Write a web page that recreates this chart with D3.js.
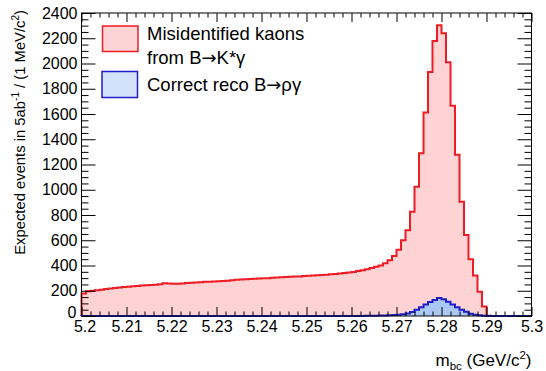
<!DOCTYPE html>
<html><head><meta charset="utf-8">
<script src="https://cdn.jsdelivr.net/npm/d3@7"></script>
<style>body{margin:0;background:#fff}svg{display:block;font-family:"Liberation Sans",Arial,Helvetica,sans-serif}</style>
</head><body><svg id="c" width="546" height="371"></svg>
<script>
// ---- data ----
const binLow = 5.2, binWidth = 0.001;
const kaonCounts = [178,196,200,204,207,214,218,222,226,229,
 232,235,238,241,244,246,248,251,260,258,
 255,255,257,262,264,266,268,271,272,274,
 276,278,280,284,288,290,292,293,295,297,
 299,300,302,305,306,308,310,312,313,316,
 318,320,322,325,327,330,333,336,340,344,
 348,356,362,370,380,390,400,418,442,476,
 525,600,680,826,1024,1290,1611,1933,2178,2303,
 2239,2009,1666,1278,905,642,449,320,193,76,
 0,0,0,0,0,0,0,0,0,0];
const rhoCounts = [0.2,0.2,0.2,0.2,0.2,0.2,0.2,0.2,0.2,0.2,
 0.2,0.2,0.2,0.2,0.2,0.2,0.2,0.2,0.2,0.2,
 0.3,0.3,0.3,0.3,0.3,0.3,0.3,0.3,0.3,0.3,
 0.3,0.3,0.3,0.3,0.3,0.3,0.3,0.3,0.3,0.3,
 0.4,0.4,0.4,0.4,0.4,0.4,0.4,0.4,0.4,0.4,
 0.5,0.5,0.5,0.5,0.5,0.5,0.5,0.5,0.6,0.6,
 0.6,0.7,0.8,1,1.5,2,3,4,5,7,
 9,14,20,32,50,70,91,111,127,142,
 132,113,92,70,50,33,18,10,5,2,
 1,0.5,0.2,0,0,0,0,0,0,0];
const xTickValues = [5.2,5.21,5.22,5.23,5.24,5.25,5.26,5.27,5.28,5.29,5.3];
const xTickLabels = ["5.2","5.21","5.22","5.23","5.24","5.25","5.26","5.27","5.28","5.29","5.3"];
const yTickValues = [0,200,400,600,800,1000,1200,1400,1600,1800,2000,2200,2400];
const yTickLabels = ["0","200","400","600","800","1000","1200","1400","1600","1800","2000","2200","2400"];
const legendLabels = [["Misidentified kaons",["from B","\u2192","K*\u03B3"]],[["Correct reco B","\u2192","\u03C1\u03B3"]]];

// ---- layout ----
const svg = d3.select("#c");
const L=81.5, R=531.5, T=13, B=316;
const x = d3.scaleLinear().domain([5.2,5.3]).range([L,R]);
const y = d3.scaleLinear().domain([0,2400]).range([B,T]);

function steps(counts){
  const pts=[[binLow,0]];
  counts.forEach((v,i)=>pts.push([binLow+i*binWidth, v]));
  pts.push([binLow+counts.length*binWidth, counts[counts.length-1]]);
  pts.push([binLow+counts.length*binWidth, 0]);
  return pts;
}
const area = d3.area().x(d=>x(d[0])).y0(y(0)).y1(d=>y(d[1])).curve(d3.curveStepAfter);
const line = d3.line().x(d=>x(d[0])).y(d=>y(d[1])).curve(d3.curveStepAfter);

const red="#ee1c24", redFill="#ffd2d3", blue="#1e1ec8", blueFill="#a9c8f4";
const kp=steps(kaonCounts), rp=steps(rhoCounts);
svg.append("path").attr("d",area(kp)).attr("fill",redFill);
svg.append("path").attr("d",line(kp)).attr("fill","none").attr("stroke",red).attr("stroke-width",2);
svg.append("path").attr("d",area(rp)).attr("fill",blueFill);
svg.append("path").attr("d",line(rp)).attr("fill","none").attr("stroke",blue).attr("stroke-width",2);

// ---- axes ----
const fmtX = d=>xTickLabels[xTickValues.indexOf(d)];
const fmtY = d=>yTickLabels[yTickValues.indexOf(d)];
const xMinor = d3.range(0,51).map(i=>5.2+i*0.002).filter(v=>Math.abs(Math.round(v*100)-v*100)>1e-6);
const yMinor = d3.range(0,49).map(i=>i*50).filter(v=>v%200!==0);

function styleAxis(g){ g.select(".domain").remove(); g.selectAll("line").attr("stroke","#000").attr("stroke-width",1); g.selectAll("text").attr("font-size",16).attr("fill","#000").attr("font-family","Liberation Sans, Arial, sans-serif"); }

const xAx = svg.append("g").attr("transform",`translate(0,${B})`).call(d3.axisBottom(x).tickValues(xTickValues).tickFormat(fmtX).tickSize(-9).tickPadding(5)).call(styleAxis);
xAx.selectAll("text").filter(d=>d===5.2).attr("dx",3);
svg.append("g").attr("transform",`translate(0,${B})`).call(d3.axisBottom(x).tickValues(xMinor).tickFormat("").tickSize(-4.5)).call(styleAxis);
svg.append("g").attr("transform",`translate(0,${T})`).call(d3.axisTop(x).tickValues(xTickValues).tickFormat("").tickSize(-9)).call(styleAxis);
svg.append("g").attr("transform",`translate(0,${T})`).call(d3.axisTop(x).tickValues(xMinor).tickFormat("").tickSize(-4.5)).call(styleAxis);
const yAx = svg.append("g").attr("transform",`translate(${L},0)`).call(d3.axisLeft(y).tickValues(yTickValues).tickFormat(fmtY).tickSize(-14).tickPadding(4)).call(styleAxis);
yAx.selectAll("text").filter(d=>d===0).attr("dy","0.1em").attr("dx",-1);
svg.append("g").attr("transform",`translate(${L},0)`).call(d3.axisLeft(y).tickValues(yMinor).tickFormat("").tickSize(-7)).call(styleAxis);
svg.append("g").attr("transform",`translate(${R},0)`).call(d3.axisRight(y).tickValues(yTickValues).tickFormat("").tickSize(-14)).call(styleAxis);
svg.append("g").attr("transform",`translate(${R},0)`).call(d3.axisRight(y).tickValues(yMinor).tickFormat("").tickSize(-7)).call(styleAxis);
svg.append("rect").attr("x",L).attr("y",T).attr("width",R-L).attr("height",B-T).attr("fill","none").attr("stroke","#000").attr("stroke-width",1);

// ---- titles ----
const xt = svg.append("text").attr("x",R).attr("y",366).attr("text-anchor","end").attr("font-size",17).attr("fill","#000");
xt.append("tspan").text("m");
xt.append("tspan").attr("font-size",11.5).attr("dy",4).text("bc");
xt.append("tspan").attr("dy",-4).text(" (GeV/c");
xt.append("tspan").attr("font-size",11.5).attr("dy",-7).text("2");
xt.append("tspan").attr("dy",7).text(")");

const yt = svg.append("text").attr("transform","translate(25,10) rotate(-90)").attr("text-anchor","end").attr("font-size",14.8).attr("fill","#000");
yt.append("tspan").text("Expected events in 5ab");
yt.append("tspan").attr("font-size",10).attr("dy",-6).text("-1");
yt.append("tspan").attr("dy",6).text(" / (1 MeV/c");
yt.append("tspan").attr("font-size",10).attr("dy",-6).text("2");
yt.append("tspan").attr("dy",6).text(")");

// ---- legend ----
const lg = svg.append("g");
lg.append("rect").attr("x",102.5).attr("y",26).attr("width",35.5).attr("height",25.5).attr("fill","#fdd4d6").attr("stroke",red).attr("stroke-width",1.5);
lg.append("rect").attr("x",102).attr("y",71.5).attr("width",35.5).attr("height",26).attr("fill","#d3e2fa").attr("stroke",blue).attr("stroke-width",1.5);
function richText(xp, yp, parts){
  const t = lg.append("text").attr("x",xp).attr("y",yp).attr("font-size",18.5).attr("fill","#000");
  parts.forEach((p,i)=>{ const s=t.append("tspan").text(p); if(p==="\u2192") s.attr("font-family","DejaVu Sans").attr("font-size",18); });
}
richText(147,39.5,[legendLabels[0][0]]);
richText(147,63.5,legendLabels[0][1]);
richText(147,90.5,legendLabels[1][0]);
</script></body></html>
